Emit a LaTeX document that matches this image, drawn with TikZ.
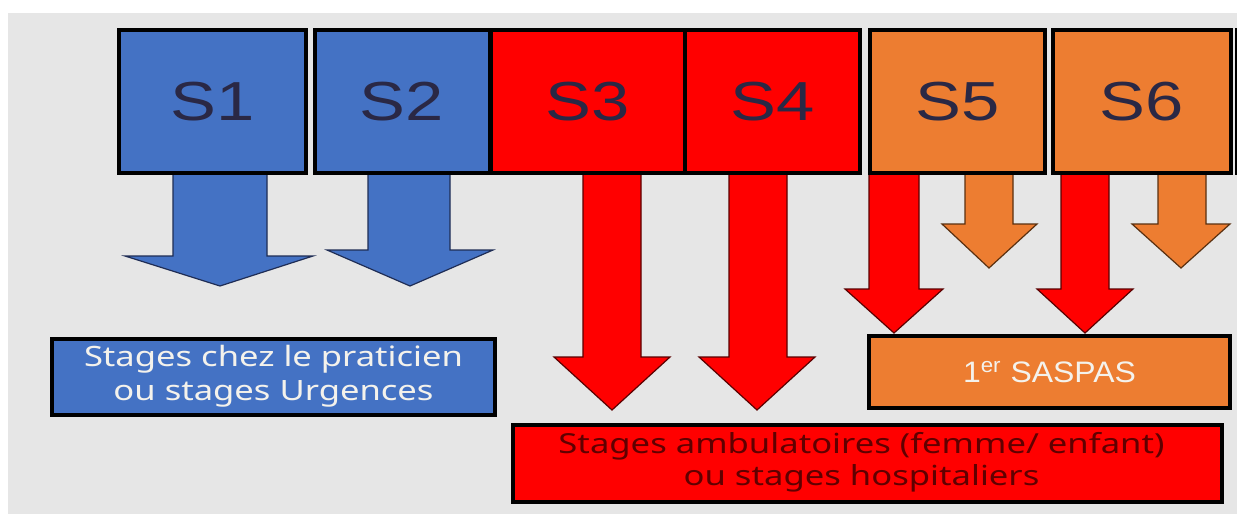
\documentclass[tikz,border=0pt]{standalone}
\usepackage{fontspec}
\usepackage{graphicx}
\setmainfont{Liberation Sans}
\newfontfamily\humfont{Noto Sans}
\definecolor{bggray}{HTML}{E6E6E6}
\definecolor{sblue}{HTML}{4472C4}
\definecolor{sred}{HTML}{FF0000}
\definecolor{sorange}{HTML}{ED7D31}
\definecolor{stxt}{HTML}{2A2845}
\definecolor{bluedge}{HTML}{1F2D55}
\definecolor{rededge}{HTML}{5A0000}
\definecolor{orgedge}{HTML}{5A3010}
\definecolor{redtxt}{HTML}{600000}
\definecolor{lighttxt}{HTML}{F4F2EC}
\newcommand\blockarr[9]{%
  \filldraw[#1] (#2,#4) -- (#3,#4) -- (#3,#5) -- (#7,#5) -- (#8,#9) -- (#6,#5) -- (#2,#5) -- cycle;}
\newcommand\stxt[1]{\fontsize{27.5pt}{30pt}\selectfont\scalebox{1.25}[1]{#1}}
\tikzset{
  sbox/.style={draw=black, line width=2pt, inner sep=0pt, minimum height=71.5pt, text=stxt},
  lowbox/.style={draw=black, line width=2pt, inner sep=0pt},
  barrow/.style={fill=sblue, draw=bluedge, line width=0.6pt},
  rarrow/.style={fill=sred, draw=rededge, line width=0.6pt},
  oarrow/.style={fill=sorange, draw=orgedge, line width=0.6pt},
}
\begin{document}
\begin{tikzpicture}[x=0.5pt,y=-0.5pt]
\useasboundingbox (0,0) rectangle (1237,514);
\fill[white] (0,0) rectangle (1237,514);
\fill[bggray] (8,13) rectangle (1237,514);

% block arrows
\blockarr{barrow}{173}{267}{174}{256}{125}{313}{220}{286}
\blockarr{barrow}{368}{450}{174}{250}{327}{493}{410}{286}
\blockarr{rarrow}{583}{641}{174}{357}{554}{670}{612}{410}
\blockarr{rarrow}{729}{787}{174}{357}{699}{815}{757}{410}
\blockarr{oarrow}{965}{1013}{174}{224}{942}{1037}{989}{268}
\blockarr{oarrow}{1158}{1206}{174}{224}{1132}{1230}{1181}{268}
\blockarr{rarrow}{869}{919}{174}{289}{845}{943}{894}{333}
\blockarr{rarrow}{1061}{1109}{174}{289}{1037}{1133}{1085}{333}

% top boxes
\node[sbox, fill=sblue, minimum width=93.75pt] (s1) at (212.25,101.5) {\stxt{S1}};
\node[sbox, fill=sblue, minimum width=87.5pt] (s2) at (402,101.5) {\stxt{S2}};
\node[sbox, fill=sred, minimum width=96.75pt] (s3) at (587.75,101.5) {\stxt{S3}};
\node[sbox, fill=sred, minimum width=87.75pt] (s4) at (772.25,101.5) {\stxt{S4}};
\node[sbox, fill=sorange, minimum width=87.75pt] (s5) at (957.25,101.5) {\stxt{S5}};
\node[sbox, fill=sorange, minimum width=89pt] (s6) at (1141.5,101.5) {\stxt{S6}};
\fill[black] (1234.5,28) rectangle (1237,175);

% lower boxes
\node[lowbox, fill=sblue, minimum width=221.5pt, minimum height=38pt, text=lighttxt] (gp) at (273.5,377)
  {\humfont\fontsize{14pt}{17pt}\selectfont\resizebox{189.5pt}{\height}{\begin{tabular}{@{}c@{}}Stages chez le praticien\\ou stages Urgences\end{tabular}}};
\node[lowbox, fill=sorange, minimum width=180.5pt, minimum height=36pt, text=lighttxt] (sas) at (1049.5,372)
  {\fontsize{14.8pt}{16pt}\selectfont\resizebox{86.5pt}{\height}{1\textsuperscript{er} SASPAS}};
\node[lowbox, fill=sred, minimum width=354.5pt, minimum height=38.5pt, text=redtxt] (amb) at (867.5,463.5)
  {\humfont\fontsize{13.8pt}{16pt}\selectfont\resizebox{303pt}{\height}{\begin{tabular}{@{}c@{}}Stages ambulatoires (femme/ enfant)\\ou stages hospitaliers\end{tabular}}\hspace*{6pt}};
\end{tikzpicture}
\end{document}
